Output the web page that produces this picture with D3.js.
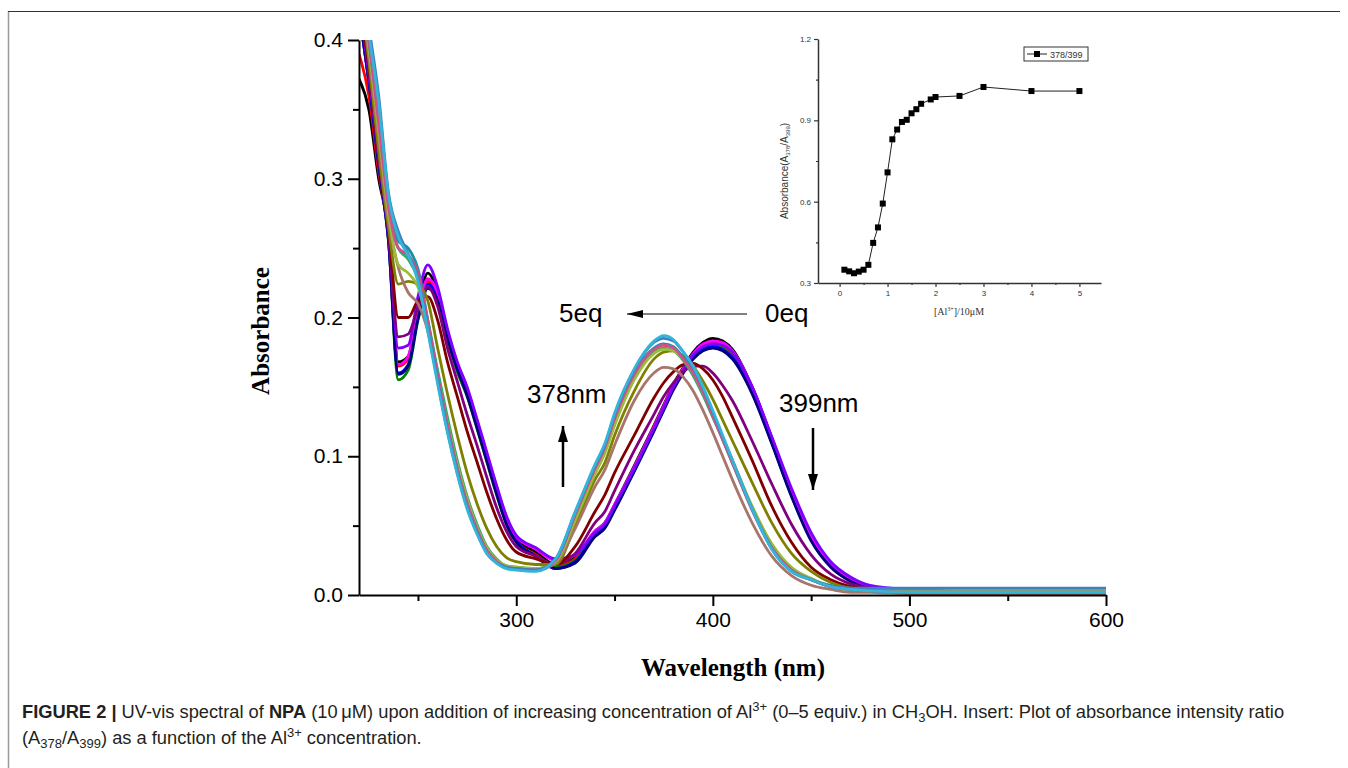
<!DOCTYPE html>
<html>
<head>
<meta charset="utf-8">
<script src="https://cdn.jsdelivr.net/npm/d3@7"></script>
<style>
  body { margin: 0; background: #fff; }
  svg { display: block; }
  .tick text { font-family: "Liberation Sans", Arial, sans-serif; }
</style>
</head>
<body>
<svg id="fig" width="1348" height="768"></svg>
<script>
// wavelength grid (nm) shared by every spectrum
var wl = [220,225,230,235,240,245,250,255,260,265,270,275,280,285,290,295,300,310,320,330,340,345,350,360,370,375,380,385,390,395,400,405,410,420,430,440,450,460,470,480,500,550,600];

// absorbance spectra, 0 eq -> 5 eq
var sBlack   = [.372,.35,.30,.262,.168,.172,.207,.232,.218,.188,.165,.147,.124,.100,.076,.054,.041,.031,.022,.027,.046,.052,.065,.093,.122,.137,.152,.164,.175,.182,.185,.183,.177,.150,.113,.075,.042,.022,.011,.006,.003,.002,.002];
var sRed     = [.39,.36,.305,.26,.165,.17,.203,.226,.214,.185,.162,.144,.121,.097,.074,.052,.039,.029,.021,.026,.045,.051,.064,.092,.121,.136,.151,.163,.173,.180,.182,.180,.174,.148,.111,.073,.041,.021,.011,.006,.003,.002,.002];
var sGreen   = [.42,.37,.31,.255,.155,.162,.198,.222,.212,.184,.161,.143,.12,.096,.072,.051,.038,.028,.02,.025,.044,.05,.063,.091,.12,.135,.15,.162,.172,.178,.180,.178,.172,.147,.110,.072,.040,.021,.010,.005,.003,.002,.002];
var sBlue    = [.42,.37,.31,.256,.16,.166,.2,.224,.214,.186,.163,.145,.122,.098,.074,.052,.039,.028,.019,.024,.043,.049,.062,.09,.119,.134,.149,.161,.171,.177,.179,.177,.171,.146,.110,.072,.040,.021,.010,.005,.003,.002,.002];
var sMagenta = [.42,.37,.31,.258,.166,.172,.205,.228,.218,.19,.167,.149,.126,.102,.078,.056,.042,.033,.025,.029,.046,.052,.065,.092,.121,.136,.151,.163,.174,.181,.183,.182,.176,.150,.113,.075,.043,.023,.012,.006,.003,.002,.002];
var sNavy    = [.42,.37,.31,.256,.159,.165,.199,.221,.212,.185,.163,.144,.121,.097,.073,.051,.038,.028,.019,.023,.042,.048,.061,.089,.118,.133,.148,.16,.17,.176,.178,.176,.170,.145,.109,.071,.039,.020,.010,.005,.003,.002,.002];
var sViolet  = [.43,.375,.315,.262,.178,.18,.215,.238,.222,.192,.168,.15,.127,.103,.079,.057,.043,.034,.026,.029,.045,.051,.064,.091,.12,.135,.15,.162,.173,.179,.181,.180,.175,.150,.114,.077,.045,.024,.013,.007,.004,.002,.002];
var sPurple  = [.43,.38,.315,.262,.186,.188,.207,.222,.208,.178,.154,.13,.108,.085,.063,.046,.035,.028,.022,.030,.052,.060,.075,.104,.130,.143,.153,.161,.165,.165,.160,.151,.140,.111,.080,.051,.029,.015,.008,.005,.002,.002,.002];
var sWine    = [.43,.38,.318,.265,.2,.2,.212,.215,.198,.168,.143,.118,.096,.074,.055,.040,.031,.026,.022,.035,.060,.072,.088,.115,.142,.153,.161,.166,.167,.163,.155,.143,.128,.097,.064,.038,.020,.011,.006,.004,.002,.002,.002];
var sOlive   = [.44,.385,.32,.265,.224,.226,.224,.212,.178,.145,.115,.088,.066,.048,.035,.027,.024,.022,.022,.05,.083,.095,.115,.147,.170,.175,.176,.172,.165,.154,.141,.126,.111,.081,.052,.030,.017,.009,.005,.004,.003,.003,.003];
var sRose    = [.44,.39,.33,.27,.236,.218,.21,.19,.155,.12,.09,.065,.046,.032,.024,.02,.019,.018,.023,.048,.078,.09,.108,.14,.16,.164,.163,.157,.147,.133,.117,.1,.083,.052,.028,.014,.007,.004,.002,.002,.001,.001,.001];
var sSeaGrn  = [.45,.4,.34,.28,.25,.242,.228,.198,.162,.128,.097,.071,.051,.035,.026,.021,.02,.019,.024,.055,.088,.103,.124,.156,.175,.178,.176,.169,.158,.144,.128,.112,.095,.062,.035,.019,.011,.006,.004,.003,.002,.002,.002];
var sYelGrn  = [.45,.395,.335,.275,.238,.232,.222,.195,.158,.124,.094,.069,.049,.034,.025,.021,.02,.019,.024,.054,.087,.102,.122,.155,.174,.177,.176,.170,.160,.146,.130,.113,.097,.064,.037,.020,.012,.006,.004,.003,.003,.003,.003];
var sDkCyan  = [.45,.4,.345,.285,.255,.25,.235,.198,.158,.122,.091,.066,.047,.032,.024,.02,.019,.018,.025,.058,.092,.107,.128,.16,.178,.181,.179,.171,.161,.147,.13,.113,.096,.062,.034,.018,.011,.006,.004,.003,.002,.002,.002];
var sPink    = [.45,.4,.34,.28,.25,.245,.232,.197,.158,.122,.091,.066,.047,.032,.024,.02,.019,.018,.025,.058,.091,.106,.127,.159,.177,.180,.178,.170,.160,.146,.129,.112,.095,.061,.034,.018,.011,.006,.004,.003,.002,.002,.002];
var sSteel   = [.46,.41,.36,.29,.262,.246,.228,.192,.154,.118,.088,.063,.045,.03,.023,.02,.019,.018,.026,.060,.093,.108,.13,.162,.182,.185,.183,.175,.164,.149,.132,.114,.097,.062,.033,.017,.011,.007,.005,.005,.005,.005,.005];
var sCyan    = [.46,.405,.355,.288,.258,.245,.226,.19,.152,.117,.087,.062,.044,.030,.023,.019,.018,.017,.026,.060,.094,.109,.131,.163,.183,.187,.184,.175,.165,.150,.133,.115,.097,.062,.033,.017,.011,.006,.004,.003,.002,.002,.002];

var spectra = [sBlack, sRed, sGreen, sBlue, sMagenta, sNavy, sViolet, sPurple, sWine, sOlive, sRose, sSeaGrn, sYelGrn, sDkCyan, sPink, sSteel, sCyan];
var colors  = ["#000000","#ff0000","#008000","#0000ff","#ff00ff","#000080","#8000ff","#800080","#800000","#808000","#a8756b","#2eaa6a","#9bbb3a","#1f8fa0","#d0508a","#3f7fbf","#33b4d8"];

// inset: A378/A399 vs [Al3+]/10uM
var ratioX = [0.1,0.2,0.3,0.4,0.5,0.6,0.7,0.8,0.9,1.0,1.1,1.2,1.3,1.4,1.5,1.6,1.7,1.9,2.0,2.5,3,4,5];
var ratioY = [.349,.343,.336,.342,.349,.367,.448,.505,.593,.708,.830,.866,.894,.902,.926,.941,.961,.977,.986,.990,1.023,1.008,1.008];

var xTicks = [300,400,500,600], xMinor = [250,350,450,550];
var yTicks = [0,0.1,0.2,0.3,0.4], yMinor = [0.05,0.15,0.25,0.35];

var svg = d3.select("#fig");

// figure frame
svg.append("line").attr("x1", 8.5).attr("x2", 8.5).attr("y1", 11).attr("y2", 768)
    .attr("stroke", "#999").attr("stroke-width", 1.5);
svg.append("line").attr("x1", 8).attr("x2", 1340).attr("y1", 11.5).attr("y2", 11.5)
    .attr("stroke", "#333").attr("stroke-width", 1);

var x = d3.scaleLinear().domain([220, 600]).range([359, 1106]);
var y = d3.scaleLinear().domain([0, 0.4]).range([595, 40]);

svg.append("clipPath").attr("id", "plotclip").append("rect")
    .attr("x", 359).attr("y", 40).attr("width", 1106 - 359).attr("height", 595 - 40);

var line = d3.line()
    .x(function (d, i) { return x(wl[i]); })
    .y(function (d) { return y(d); })
    .curve(d3.curveMonotoneX);

svg.append("g").attr("clip-path", "url(#plotclip)")
    .selectAll("path").data(spectra).enter().append("path")
    .attr("d", line)
    .attr("fill", "none")
    .attr("stroke", function (d, i) { return colors[i]; })
    .attr("stroke-width", 2.8)
    .attr("stroke-linejoin", "round");

// main axes
var gx = svg.append("g").attr("transform", "translate(0,595)")
    .call(d3.axisBottom(x).tickValues(xTicks).tickSize(11).tickSizeOuter(0).tickPadding(6));
svg.append("g").attr("transform", "translate(0,595)")
    .call(d3.axisBottom(x).tickValues(xMinor).tickSize(6).tickFormat(""))
    .select(".domain").remove();
var gy = svg.append("g").attr("transform", "translate(359,0)")
    .call(d3.axisLeft(y).tickValues(yTicks).tickSize(11).tickSizeOuter(0).tickPadding(5).tickFormat(d3.format(".1f")));
svg.append("g").attr("transform", "translate(359,0)")
    .call(d3.axisLeft(y).tickValues(yMinor).tickSize(6).tickFormat(""))
    .select(".domain").remove();

[gx, gy].forEach(function (g) {
    g.select(".domain").attr("stroke-width", 2);
    g.selectAll(".tick text").attr("font-size", 21).attr("fill", "#000");
});
svg.selectAll(".tick line").attr("stroke-width", 2);

svg.append("text")
    .attr("transform", "translate(269,331) rotate(-90)")
    .attr("text-anchor", "middle")
    .attr("font-family", "'Liberation Serif', 'Times New Roman', serif")
    .attr("font-weight", "bold").attr("font-size", 25)
    .text("Absorbance");

svg.append("text")
    .attr("x", 733).attr("y", 676)
    .attr("text-anchor", "middle")
    .attr("font-family", "'Liberation Serif', 'Times New Roman', serif")
    .attr("font-weight", "bold").attr("font-size", 25)
    .text("Wavelength (nm)");

// annotations
var ann = svg.append("g")
    .attr("font-family", "'Liberation Sans', Arial, sans-serif")
    .attr("font-size", 26).attr("fill", "#000");
ann.append("text").attr("x", 559).attr("y", 322).text("5eq");
ann.append("text").attr("x", 765).attr("y", 322).text("0eq");
ann.append("text").attr("x", 527).attr("y", 403).text("378nm");
ann.append("text").attr("x", 779).attr("y", 412).text("399nm");

var defs = svg.append("defs");
defs.append("marker").attr("id", "headThin")
    .attr("viewBox", "0 0 16 8").attr("refX", 16).attr("refY", 4)
    .attr("markerWidth", 16).attr("markerHeight", 8)
    .attr("markerUnits", "userSpaceOnUse").attr("orient", "auto")
    .append("path").attr("d", "M0,0L16,4L0,8Z").attr("fill", "#000");
defs.append("marker").attr("id", "headBold")
    .attr("viewBox", "0 0 16 10").attr("refX", 16).attr("refY", 5)
    .attr("markerWidth", 16).attr("markerHeight", 10)
    .attr("markerUnits", "userSpaceOnUse").attr("orient", "auto")
    .append("path").attr("d", "M0,0L16,5L0,10Z").attr("fill", "#000");

svg.append("line").attr("x1", 747).attr("y1", 314).attr("x2", 627).attr("y2", 314)
    .attr("stroke", "#000").attr("stroke-width", 1).attr("marker-end", "url(#headThin)");
svg.append("line").attr("x1", 563).attr("y1", 487).attr("x2", 563).attr("y2", 426)
    .attr("stroke", "#000").attr("stroke-width", 2.5).attr("marker-end", "url(#headBold)");
svg.append("line").attr("x1", 813).attr("y1", 428).attr("x2", 813).attr("y2", 490)
    .attr("stroke", "#000").attr("stroke-width", 2.5).attr("marker-end", "url(#headBold)");

// inset
var xi = d3.scaleLinear().domain([-0.45, 5.45]).range([818, 1101]);
var yi = d3.scaleLinear().domain([0.3, 1.2]).range([283, 39]);

var ins = svg.append("g");
ins.append("g").attr("transform", "translate(0,283)")
    .call(d3.axisBottom(xi).tickValues([0,1,2,3,4,5]).tickSize(4).tickSizeOuter(0).tickPadding(3).tickFormat(d3.format("d")));
ins.append("g").attr("transform", "translate(0,283)")
    .call(d3.axisBottom(xi).tickValues([0.5,1.5,2.5,3.5,4.5]).tickSize(2).tickFormat(""))
    .select(".domain").remove();
ins.append("g").attr("transform", "translate(818,0)")
    .call(d3.axisLeft(yi).tickValues([0.3,0.6,0.9,1.2]).tickSize(4).tickSizeOuter(0).tickPadding(3).tickFormat(d3.format(".1f")));
ins.append("g").attr("transform", "translate(818,0)")
    .call(d3.axisLeft(yi).tickValues([0.45,0.75,1.05]).tickSize(2).tickFormat(""))
    .select(".domain").remove();
ins.selectAll(".domain").attr("stroke", "#333").attr("stroke-width", 1.5);
ins.selectAll(".tick line").attr("stroke", "#333").attr("stroke-width", 1.2);
ins.selectAll(".tick text").attr("font-size", 8).attr("fill", "#333");

var iline = d3.line()
    .x(function (d, i) { return xi(ratioX[i]); })
    .y(function (d) { return yi(d); });
ins.append("path").datum(ratioY).attr("d", iline)
    .attr("fill", "none").attr("stroke", "#222").attr("stroke-width", 1);
ins.selectAll("rect.pt").data(ratioY).enter().append("rect")
    .attr("class", "pt")
    .attr("x", function (d, i) { return xi(ratioX[i]) - 3; })
    .attr("y", function (d) { return yi(d) - 3; })
    .attr("width", 6).attr("height", 6).attr("fill", "#000");

var iyl = ins.append("text")
    .attr("transform", "translate(788,171) rotate(-90)")
    .attr("text-anchor", "middle")
    .attr("font-family", "'Liberation Sans', Arial, sans-serif")
    .attr("font-size", 10).attr("fill", "#333");
iyl.append("tspan").text("Absorbance(A");
iyl.append("tspan").attr("font-size", 6).attr("dy", 2).text("378");
iyl.append("tspan").attr("dy", -2).text("/A");
iyl.append("tspan").attr("font-size", 6).attr("dy", 2).text("399");
iyl.append("tspan").attr("dy", -2).text(")");

var ixl = ins.append("text").attr("x", 959).attr("y", 315)
    .attr("text-anchor", "middle")
    .attr("font-family", "'Liberation Serif', 'Times New Roman', serif")
    .attr("font-size", 10).attr("fill", "#333");
ixl.append("tspan").text("[Al");
ixl.append("tspan").attr("font-size", 6).attr("dy", -4).text("3+");
ixl.append("tspan").attr("dy", 4).text("]/10\u03bcM");

var leg = ins.append("g");
leg.append("rect").attr("x", 1024).attr("y", 47).attr("width", 64).attr("height", 14)
    .attr("fill", "#fff").attr("stroke", "#333").attr("stroke-width", 1);
leg.append("line").attr("x1", 1027).attr("x2", 1047).attr("y1", 54).attr("y2", 54)
    .attr("stroke", "#222").attr("stroke-width", 1);
leg.append("rect").attr("x", 1034).attr("y", 51).attr("width", 6).attr("height", 6).attr("fill", "#000");
leg.append("text").attr("x", 1050).attr("y", 58)
    .attr("font-family", "'Liberation Sans', Arial, sans-serif")
    .attr("font-size", 9).attr("fill", "#333").text("378/399");

// caption
var cap = svg.append("g")
    .attr("font-family", "'Liberation Sans', Arial, sans-serif")
    .attr("font-size", 18.3).attr("fill", "#231f20");
var c1 = cap.append("text").attr("x", 22).attr("y", 718);
c1.append("tspan").attr("font-weight", "bold").text("FIGURE 2 | ");
c1.append("tspan").text("UV-vis spectral of ");
c1.append("tspan").attr("font-weight", "bold").text("NPA");
c1.append("tspan").text(" (10\u2009\u03bcM) upon addition of increasing concentration of Al");
c1.append("tspan").attr("font-size", 13).attr("dy", -7).text("3+");
c1.append("tspan").attr("dy", 7).text(" (0\u20135 equiv.) in CH");
c1.append("tspan").attr("font-size", 13).attr("dy", 4).text("3");
c1.append("tspan").attr("dy", -4).text("OH. Insert: Plot of absorbance intensity ratio");
var c2 = cap.append("text").attr("x", 22).attr("y", 744);
c2.append("tspan").text("(A");
c2.append("tspan").attr("font-size", 13).attr("dy", 4).text("378");
c2.append("tspan").attr("dy", -4).text("/A");
c2.append("tspan").attr("font-size", 13).attr("dy", 4).text("399");
c2.append("tspan").attr("dy", -4).text(") as a function of the Al");
c2.append("tspan").attr("font-size", 13).attr("dy", -7).text("3+");
c2.append("tspan").attr("dy", 7).text(" concentration.");
</script>
</body>
</html>
